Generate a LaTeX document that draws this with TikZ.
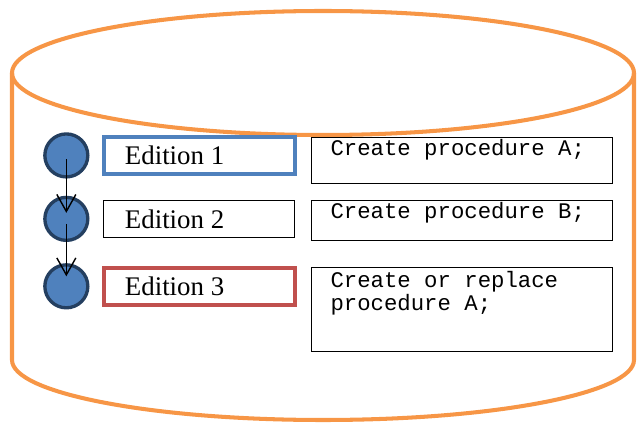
\documentclass[tikz,border=0pt]{standalone}
\usepackage{fontspec}
\setmainfont{Liberation Serif}
\setmonofont{Liberation Mono}
\usepackage{xcolor}
\usetikzlibrary{arrows.meta, positioning}

\definecolor{dbOrange}{HTML}{F79646}
\definecolor{edBlue}{HTML}{4F81BD}
\definecolor{edRed}{HTML}{C0504D}
\definecolor{dotEdge}{HTML}{243F60}

\begin{document}
\begin{tikzpicture}[
        x=0.02cm, y=0.02cm,
        edbox/.style={draw, rectangle, anchor=north west,
            text width=2.98cm, inner xsep=0.42cm, inner ysep=0pt, minimum height=0.74cm,
            font=\fontsize{15.3}{18}\selectfont,
            execute at begin node={\spaceskip=0pt\xspaceskip=0pt}},
        codebox/.style={draw=black, line width=0.6pt, rectangle, anchor=north west,
            text width=5.26cm, inner xsep=0.38cm, inner ysep=0pt, text height=0.36cm,
            font=\fontsize{12.7}{13}\selectfont\ttfamily,
            execute at begin node={\spaceskip=0pt\xspaceskip=0pt}},
        dot/.style={circle, fill=edBlue, draw=dotEdge, line width=1.9pt, inner sep=0pt, minimum size=0.86cm},
        arrow/.style={-{Straight Barb[length=0.34cm, width=0.38cm]}, line width=0.8pt}
    ]
    \useasboundingbox (0,0) rectangle (637,423);

    % Database cylinder
    \draw[dbOrange, line width=2.3pt] (323,350) ellipse [x radius=311, y radius=62];
    \draw[dbOrange, line width=2.3pt] (12,350) -- (12,63)
        arc[start angle=180, end angle=360, x radius=311, y radius=60] -- (634,350);

    % Editions
    \node[edbox, draw=edBlue, line width=2.2pt] (ed1) at (102,288) {Edition 1};
    \node[edbox, draw=black, line width=0.6pt] (ed2) [below=0.48cm of ed1] {Edition 2};
    \node[edbox, draw=edRed, line width=2.2pt] (ed3) [below=0.56cm of ed2] {Edition 3};

    \node[dot] (v1) [left=0.25cm of ed1] {};
    \node[dot] (v2) at (v1 |- ed2) {};
    \node[dot] (v3) at (v1 |- ed3) {};

    % Scripts
    \node[codebox, text depth=0.56cm] (code1) at (311,286) {Create procedure A;};
    \node[codebox, text depth=0.44cm] (code2) at (311,223) {Create procedure B;};
    \node[codebox, text height=0.4cm, text depth=1.28cm] (code3) at (311,156) {Create or replace\\procedure A;};

    % Arrows
    \draw[arrow] ([yshift=-0.08cm]v1.center) -- ([yshift=0.12cm]v2.center);
    \draw[arrow] ([yshift=-0.1cm]v2.center) -- ([yshift=0.2cm]v3.center);
\end{tikzpicture}
\end{document}
